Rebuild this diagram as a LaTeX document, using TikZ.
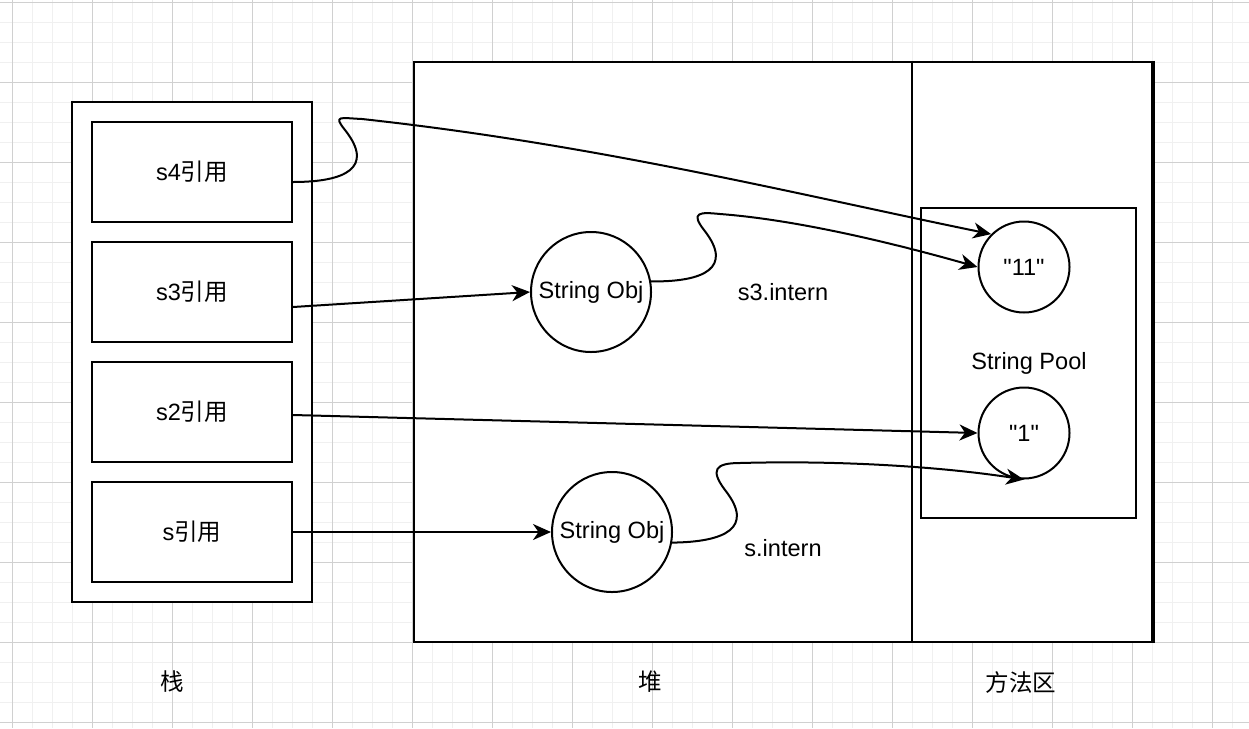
\documentclass[tikz,border=0pt]{standalone}
\usepackage{fontspec}
\setmainfont{Liberation Sans}[Ligatures=TeXOff]
\newfontfamily\cjk{Noto Sans CJK SC}
\usetikzlibrary{arrows.meta}
\definecolor{gridminor}{HTML}{F0F0F0}
\definecolor{gridmajor}{HTML}{D0D0D0}

\begin{document}
\begin{tikzpicture}[x=0.2mm,y=-0.2mm,
  font=\fontsize{13.4}{16}\selectfont,
  box/.style={draw,line width=0.4mm,fill=white,inner sep=0pt},
  ref/.style={box,minimum width=4cm,minimum height=2cm},
  obj/.style={box,circle,minimum size=2.4cm},
  lit/.style={box,circle,minimum size=1.82cm},
  link/.style={line width=0.4mm,-{Stealth[length=3.6mm,width=3.2mm,inset=1.1mm]}},
  minorline/.style={gridminor,line width=0.2mm},
  majorline/.style={gridmajor,line width=0.2mm}]

	\useasboundingbox (0,0) rectangle (1249,728);

	% Grid
	\foreach \x in {12,32,...,1232} \draw[minorline] (\x,0) -- (\x,728);
	\foreach \y in {2,22,...,722} \draw[minorline] (0,\y) -- (1249,\y);
	\foreach \x in {12,92,...,1212} \draw[majorline] (\x,0) -- (\x,728);
	\foreach \y in {2,82,...,722} \draw[majorline] (0,\y) -- (1249,\y);

	% Stack
	\node (stack) at (192,352) [box,minimum width=4.8cm,minimum height=10cm] {};
	\node (s4) at (192,172) [ref] {s4{\cjk 引用}};
	\node (s3) at (192,292) [ref] {s3{\cjk 引用}};
	\node (s2) at (192,412) [ref] {s2{\cjk 引用}};
	\node (s) at (192,532) [ref] {s{\cjk 引用}};

	% Heap and method area
	\node (heap) at (663,352) [box,minimum width=9.96cm,minimum height=11.6cm] {};
	\node (method) at (1032,352) [box,minimum width=4.8cm,minimum height=11.6cm] {};
	\draw[line width=0.8mm] (method.north east) -- (method.south east);
	\node (pool) at (1028.5,363) [box,minimum width=4.3cm,minimum height=6.2cm] {};
	\node (poolLbl) at (1029,363) {String Pool};

	% Objects
	\node (obj3) at (591,292) [obj] {String Obj};
	\node (obj) at (612,532) [obj] {String Obj};
	\node (c11) at (1024,267) [lit] {"11"};
	\node (c1) at (1024,433) [lit] {"1"};

	\node (intern3) at (783,292) {s3.intern};
	\node (intern) at (783,548) {s.intern};

	% Area labels
	\node (stackLbl) at (172,682) {\cjk 栈};
	\node (heapLbl) at (650,682) {\cjk 堆};
	\node (methodLbl) at (1021,682) {\cjk 方法区};

	% References
	\draw[link] ([yshift=-3mm]s3.east) -- (obj3.west);
	\draw[link] ([yshift=-0.6mm]s2.east) -- (c1.west);
	\draw[link] (s.east) -- (obj.west);
	\draw[link] ([yshift=-2mm]s4.east) .. controls (345,182) and (375,168) .. (345,130)
		.. controls (333,115) and (340,118) .. (362,119)
		.. controls (600,145) and (800,195) .. (c11.135);
	\draw[link] (obj3.10) .. controls (704,282) and (734,268) .. (704,230)
		.. controls (690,212) and (700,212) .. (720,214)
		.. controls (800,220) and (900,245) .. (c11.west);
	\draw[link] (obj.-10) .. controls (725,542) and (755,528) .. (725,490)
		.. controls (710,470) and (715,463) .. (740,463)
		.. controls (850,460) and (950,468) .. (c1.south);

\end{tikzpicture}
\end{document}
